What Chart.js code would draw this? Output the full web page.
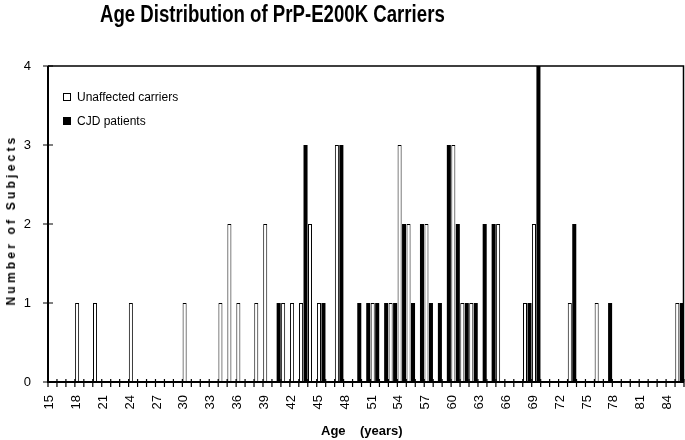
<!DOCTYPE html>
<html>
<head>
<title>Age Distribution of PrP-E200K Carriers</title>
<script src="https://cdn.jsdelivr.net/npm/chart.js"></script>
<style>
    body { margin: 0; background: #fff; }
    #wrap { position: relative; width: 685px; height: 440px; font-family: "Liberation Sans", Arial, sans-serif; color: #000; }
    canvas { position: absolute; left: 0; top: 0; }
    .title { position: absolute; left: 100px; top: 1px; font-family: "Liberation Sans Narrow", "Liberation Sans", sans-serif; font-weight: bold; font-size: 23px; white-space: nowrap; transform: scaleX(0.81); transform-origin: left top; }
    .ytitle { position: absolute; left: 11px; top: 220px; transform: translate(-50%, -50%) rotate(-90deg); font-weight: bold; font-size: 12px; letter-spacing: 3.2px; white-space: nowrap; }
    .xtitle { position: absolute; left: 321px; top: 423px; font-weight: bold; font-size: 13px; white-space: pre; }
    .legend { position: absolute; left: 63px; top: 85px; font-size: 12px; }
    .legend div { height: 24px; display: flex; align-items: center; }
    .swatch { width: 6px; height: 6px; border: 1px solid #000; margin-right: 6px; }
</style>
</head>
<body>
<div id="wrap">
    <canvas id="chart" width="685" height="440"></canvas>
    <div class="title">Age Distribution of PrP-E200K Carriers</div>
    <div class="ytitle">Number of Subjects</div>
    <div class="xtitle">Age    (years)</div>
    <div class="legend">
        <div><span class="swatch" style="background:#fff"></span>Unaffected carriers</div>
        <div><span class="swatch" style="background:#000"></span>CJD patients</div>
    </div>
</div>
<script>
    const ages = [15, 16, 17, 18, 19, 20, 21, 22, 23, 24,
                  25, 26, 27, 28, 29, 30, 31, 32, 33, 34,
                  35, 36, 37, 38, 39, 40, 41, 42, 43, 44,
                  45, 46, 47, 48, 49, 50, 51, 52, 53, 54,
                  55, 56, 57, 58, 59, 60, 61, 62, 63, 64,
                  65, 66, 67, 68, 69, 70, 71, 72, 73, 74,
                  75, 76, 77, 78, 79, 80, 81, 82, 83, 84, 85];
    const unaffected = [0, 0, 0, 1, 0, 1, 0, 0, 0, 1,
                        0, 0, 0, 0, 0, 1, 0, 0, 0, 1,
                        2, 1, 0, 1, 2, 0, 1, 1, 1, 2,
                        1, 0, 3, 0, 0, 0, 1, 0, 1, 3,
                        2, 0, 2, 0, 0, 3, 1, 1, 0, 0,
                        2, 0, 0, 1, 2, 0, 0, 0, 1, 0,
                        0, 1, 0, 0, 0, 0, 0, 0, 0, 0, 1];
    const cjdPatients = [0, 0, 0, 0, 0, 0, 0, 0, 0, 0,
                         0, 0, 0, 0, 0, 0, 0, 0, 0, 0,
                         0, 0, 0, 0, 0, 1, 0, 0, 3, 0,
                         1, 0, 3, 0, 1, 1, 1, 1, 1, 2,
                         1, 2, 1, 1, 3, 2, 1, 1, 2, 2,
                         0, 0, 0, 1, 4, 0, 0, 0, 2, 0,
                         0, 0, 1, 0, 0, 0, 0, 0, 0, 0, 1];
    const xTickLabels = [15, 18, 21, 24, 27, 30, 33, 36, 39, 42, 45, 48,
                         51, 54, 57, 60, 63, 66, 69, 72, 75, 78, 81, 84];
    const yTicks = [0, 1, 2, 3, 4];

    Chart.defaults.font.family = '"Liberation Sans", Arial, sans-serif';
    Chart.defaults.color = '#000';

    // box round the plot plus tick marks that cross the axes
    const frame = {
        id: 'frame',
        afterDraw(chart) {
            const {ctx, chartArea: a, scales: {x, y}} = chart;
            ctx.save();
            ctx.strokeStyle = '#000';
            ctx.lineWidth = 1.5;
            ctx.beginPath();
            ctx.moveTo(a.left, a.top);
            ctx.lineTo(a.right - 0.5, a.top);
            ctx.lineTo(a.right - 0.5, a.bottom);
            ctx.stroke();
            ctx.lineWidth = 2;
            ctx.beginPath();
            ctx.moveTo(a.left, a.top);
            ctx.lineTo(a.left, a.bottom);
            ctx.lineTo(a.right, a.bottom);
            ctx.stroke();

            const half = (x.getPixelForValue(1) - x.getPixelForValue(0)) / 2;
            ctx.lineWidth = 1.2;
            ctx.beginPath();
            for (let i = 0; i <= ages.length; i++) {
                const px = x.getPixelForValue(i) - half;
                ctx.moveTo(px, a.bottom - 3);
                ctx.lineTo(px, a.bottom + 5);
            }
            yTicks.forEach(v => {
                const py = y.getPixelForValue(v);
                ctx.moveTo(a.left - 5, py);
                ctx.lineTo(a.left + 5, py);
            });
            ctx.stroke();
            ctx.restore();
        }
    };

    new Chart(document.getElementById('chart'), {
        type: 'bar',
        data: {
            labels: ages,
            datasets: [{
                label: 'Unaffected carriers',
                data: unaffected,
                backgroundColor: '#fff',
                borderColor: '#000',
                borderWidth: 1,
                categoryPercentage: 1,
                barPercentage: 0.9
            }, {
                label: 'CJD patients',
                data: cjdPatients,
                backgroundColor: '#000',
                borderWidth: 0,
                categoryPercentage: 1,
                barPercentage: 0.9
            }]
        },
        options: {
            responsive: false,
            animation: false,
            layout: { padding: { top: 66, right: 1 } },
            plugins: {
                legend: { display: false },
                tooltip: { enabled: false }
            },
            scales: {
                x: {
                    offset: true,
                    grid: { display: false, drawTicks: false },
                    border: { display: false },
                    ticks: {
                        autoSkip: false,
                        minRotation: 90,
                        maxRotation: 90,
                        padding: 13,
                        labelOffset: -3,
                        font: { size: 13 },
                        callback(v, i) {
                            return xTickLabels.includes(ages[i]) ? String(ages[i]) : '';
                        }
                    },
                    afterFit(s) {
                        s.height = 58;
                        s.paddingLeft = 0;
                        s.paddingRight = 0;
                    }
                },
                y: {
                    min: 0,
                    max: 4,
                    grid: { display: false, drawTicks: false },
                    border: { display: false },
                    ticks: { stepSize: 1, padding: 17, font: { size: 13 } },
                    afterFit(s) { s.width = 48; }
                }
            }
        },
        plugins: [frame]
    });
</script>
</body>
</html>
